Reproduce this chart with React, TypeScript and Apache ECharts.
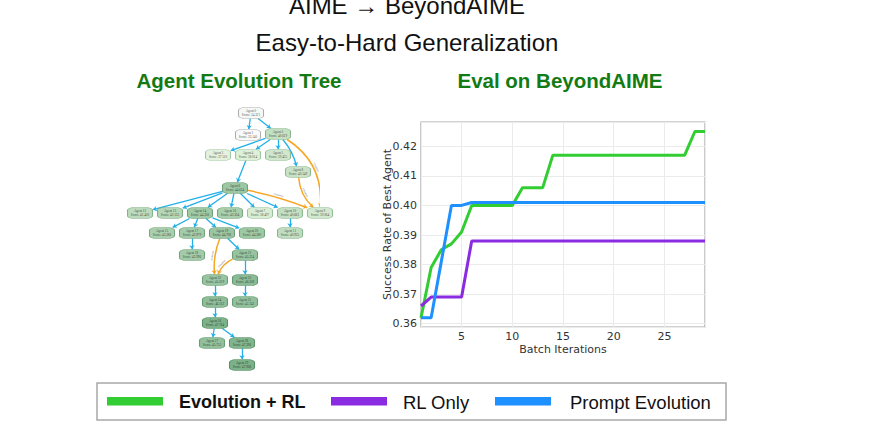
import { useEffect, useRef } from 'react';
import * as echarts from 'echarts';

// ---------- Line chart data (Eval on BeyondAIME) ----------
const iterations = [1, 2, 3, 4, 5, 6, 7, 8, 9, 10, 11, 12, 13, 14, 15, 16, 17, 18, 19, 20, 21, 22, 23, 24, 25, 26, 27, 28, 29];
const evolutionRL = [0.362, 0.379, 0.385, 0.387, 0.391, 0.400, 0.400, 0.400, 0.400, 0.400, 0.406, 0.406, 0.406, 0.417, 0.417, 0.417, 0.417, 0.417, 0.417, 0.417, 0.417, 0.417, 0.417, 0.417, 0.417, 0.417, 0.417, 0.425, 0.425];
const rlOnly = [0.366, 0.369, 0.369, 0.369, 0.369, 0.388, 0.388, 0.388, 0.388, 0.388, 0.388, 0.388, 0.388, 0.388, 0.388, 0.388, 0.388, 0.388, 0.388, 0.388, 0.388, 0.388, 0.388, 0.388, 0.388, 0.388, 0.388, 0.388, 0.388];
const promptEvolution = [0.362, 0.362, 0.381, 0.400, 0.400, 0.401, 0.401, 0.401, 0.401, 0.401, 0.401, 0.401, 0.401, 0.401, 0.401, 0.401, 0.401, 0.401, 0.401, 0.401, 0.401, 0.401, 0.401, 0.401, 0.401, 0.401, 0.401, 0.401, 0.401];
const seriesNames = ['Evolution + RL', 'RL Only', 'Prompt Evolution'];

// ---------- Tree data (Agent Evolution Tree) ----------
const agentIds = [0, 1, 2, 3, 4, 5, 8, 6, 12, 13, 14, 16, 7, 10, 9, 15, 17, 19, 20, 11, 18, 21, 22, 23, 24, 25, 26, 27, 28, 29];
const agentScores = [34.321, 33.140, 40.619, 37.110, 38.014, 39.425, 40.149, 44.634, 41.430, 42.135, 44.336, 43.304, 38.497, 40.661, 39.064, 43.286, 43.979, 44.796, 44.380, 40.935, 43.996, 45.224, 45.019, 46.508, 46.112, 45.742, 47.764, 45.753, 47.396, 47.968];
// layout position of each agent in the tree (column, level)
const agentCol = [251, 248, 278, 218, 248, 278, 298, 235, 140, 170, 200, 230, 260, 290, 320, 162, 192, 222, 252, 290, 192, 245, 215, 245, 215, 245, 215, 212, 242, 242];
const agentRow = [113, 135, 134, 155, 155, 155, 172, 188, 213, 213, 213, 213, 213, 213, 213, 233, 233, 233, 233, 233, 255, 255, 280, 280, 302, 302, 323, 343, 343, 365];
const mutationEdges: [number, number, number][] = [
  [0, 1, 0], [0, 2, 0], [2, 3, 0], [2, 4, 0], [2, 5, 0], [2, 8, 0.12], [4, 6, 0],
  [6, 12, 0], [6, 13, 0], [6, 14, 0], [6, 16, 0], [6, 7, 0], [6, 10, 0],
  [14, 15, 0], [14, 17, 0], [14, 19, 0], [14, 20, 0], [10, 11, 0], [17, 18, 0],
  [19, 21, 0], [21, 23, 0], [22, 24, 0], [23, 25, 0], [24, 26, 0], [26, 27, 0], [26, 28, 0], [28, 29, 0],
];
const crossoverEdges: [number, number, number][] = [
  [2, 9, 0.3], [8, 9, -0.2], [6, 9, 0.05], [19, 22, -0.12], [21, 22, -0.2],
];

const COLORS = { green: '#32cd32', purple: '#8a2be2', blue: '#1e90ff' };
const TITLE_GREEN = '#137b13';
const NODE_W = 25;
const NODE_H = 11;

function hexToRgb(h: string) {
  return [parseInt(h.slice(1, 3), 16), parseInt(h.slice(3, 5), 16), parseInt(h.slice(5, 7), 16)];
}
function mix(a: string, b: string, t: number) {
  const x = hexToRgb(a), y = hexToRgb(b);
  const c = x.map((v, i) => Math.round(v + (y[i] - v) * t));
  return `rgb(${c[0]},${c[1]},${c[2]})`;
}
function scoreColor(s: number) {
  if (s < 38) return mix('#f7f7f7', '#d5ecce', Math.max(0, (s - 34) / 4));
  return mix('#d5ecce', '#5b9e6b', Math.min(1, (s - 38) / 10));
}
function borderColor(s: number) {
  if (s < 35) return '#9a9a9a';
  return mix('#9cc99a', '#3f7f4f', Math.min(1, (s - 35) / 13));
}

function clipToRect(a: number[], toward: number[], pad: number) {
  const dx = toward[0] - a[0], dy = toward[1] - a[1];
  const sx = dx !== 0 ? (NODE_W / 2) / Math.abs(dx) : Infinity;
  const sy = dy !== 0 ? (NODE_H / 2) / Math.abs(dy) : Infinity;
  const s = Math.min(sx, sy);
  const len = Math.hypot(dx, dy) || 1;
  return [a[0] + dx * s + (dx / len) * pad, a[1] + dy * s + (dy / len) * pad];
}

function edgeCoords(from: number, to: number, c: number) {
  const i = agentIds.indexOf(from), j = agentIds.indexOf(to);
  const A = [agentCol[i], agentRow[i]];
  const B = [agentCol[j], agentRow[j]];
  const cp = [(A[0] + B[0]) / 2 - (A[1] - B[1]) * c, (A[1] + B[1]) / 2 - (B[0] - A[0]) * c];
  const start = clipToRect(A, c ? cp : B, 0);
  const end = clipToRect(B, c ? cp : A, 0.3);
  return [start, end];
}

export default function App() {
  const ref = useRef<HTMLDivElement>(null);
  useEffect(() => {
    document.body.style.margin = '0';
    if (!ref.current) return;
    const chart = echarts.init(ref.current, null, { renderer: 'svg' });

    const treeNodes = agentIds.map((id, i) => ({
      value: [agentCol[i], agentRow[i]],
      name: `Agent ${id}`,
      score: agentScores[i],
      itemStyle: { color: scoreColor(agentScores[i]), borderColor: borderColor(agentScores[i]), borderWidth: 0.7 },
    }));

    const treeEdges = [
      ...mutationEdges.map(([f, t, c]) => ({
        coords: edgeCoords(f, t, c),
        lineStyle: { color: '#22b0ea', width: 1.3, opacity: 1, curveness: c },
      })),
      ...crossoverEdges.map(([f, t, c]) => ({
        coords: edgeCoords(f, t, c),
        lineStyle: { color: '#f5a623', width: 1.5, opacity: 1, curveness: c },
        label: { show: true, formatter: 'crossover', fontSize: 2.6, color: '#555', position: 'middle', distance: 1, fontFamily: 'Liberation Serif' },
      })),
    ];

    const lineSeries = (name: string, vals: number[], color: string, z: number) => ({
      type: 'line',
      name,
      xAxisIndex: 0,
      yAxisIndex: 0,
      data: iterations.map((x, i) => [x, vals[i]]),
      showSymbol: false,
      symbol: 'none',
      lineStyle: { color, width: 3 },
      itemStyle: { color },
      z,
    });

    const legendItems = [
      { name: seriesNames[0], color: COLORS.green, rectX: 107, textX: 179, bold: true },
      { name: seriesNames[1], color: COLORS.purple, rectX: 331, textX: 403, bold: false },
      { name: seriesNames[2], color: COLORS.blue, rectX: 495, textX: 570, bold: false },
    ];

    const sans = 'Liberation Sans, Arial, sans-serif';
    const option: any = {
      animation: false,
      backgroundColor: '#ffffff',
      grid: [
        { left: 421, top: 122, width: 284, height: 205, show: true, borderColor: '#a8a8a8', borderWidth: 1.2, backgroundColor: 'transparent' },
        { left: 140, top: 113, width: 180, height: 252, show: false },
      ],
      xAxis: [
        {
          gridIndex: 0, type: 'value', min: 1, max: 29,
          name: 'Batch Iterations', nameLocation: 'middle', nameGap: 17, nameMoveOverlap: false,
          nameTextStyle: { fontSize: 11, color: '#333', fontFamily: 'DejaVu Sans' },
          axisLine: { show: false }, axisTick: { show: false },
          axisLabel: { fontSize: 11, color: '#333', fontFamily: 'DejaVu Sans', margin: 4, showMinLabel: false, showMaxLabel: false },
          splitLine: { show: true, lineStyle: { color: '#ebebeb', width: 1 } },
        },
        { gridIndex: 1, type: 'value', min: 140, max: 320, show: false },
      ],
      yAxis: [
        {
          gridIndex: 0, type: 'value', min: 0.3589, max: 0.4282,
          name: 'Success Rate of Best Agent', nameLocation: 'middle', nameGap: 28.5, nameRotate: 90, nameMoveOverlap: false,
          nameTextStyle: { fontSize: 11, color: '#333', fontFamily: 'DejaVu Sans' },
          axisLine: { show: false }, axisTick: { show: false },
          axisLabel: { fontSize: 11, color: '#333', fontFamily: 'DejaVu Sans', margin: 4, showMinLabel: false, showMaxLabel: false, formatter: (v: number) => v.toFixed(2) },
          splitLine: { show: true, lineStyle: { color: '#ebebeb', width: 1 } },
        },
        { gridIndex: 1, type: 'value', min: 113, max: 365, inverse: true, show: false },
      ],
      series: [
        lineSeries(seriesNames[0], evolutionRL, COLORS.green, 3),
        lineSeries(seriesNames[1], rlOnly, COLORS.purple, 4),
        lineSeries(seriesNames[2], promptEvolution, COLORS.blue, 5),
        {
          type: 'lines',
          coordinateSystem: 'cartesian2d',
          xAxisIndex: 1,
          yAxisIndex: 1,
          symbol: ['none', 'arrow'],
          symbolSize: 4,
          lineStyle: { opacity: 1 },
          data: treeEdges,
          z: 2,
          silent: true,
        },
        {
          type: 'scatter',
          xAxisIndex: 1,
          yAxisIndex: 1,
          symbol: 'roundRect',
          symbolSize: [NODE_W, NODE_H],
          data: treeNodes,
          z: 6,
          label: {
            show: true,
            position: 'inside',
            fontSize: 3.3,
            lineHeight: 4,
            color: '#1a1a1a',
            fontFamily: 'Liberation Serif, serif',
            formatter: (p: any) => `${p.data.name}\nScore: ${p.data.score.toFixed(3)}`,
          },
        },
      ],
      graphic: [
        { type: 'text', style: { text: 'AIME → BeyondAIME', x: 407, y: 5, textAlign: 'center', textVerticalAlign: 'middle', fontSize: 24, fontFamily: sans, fill: '#111' } },
        { type: 'text', style: { text: 'Easy-to-Hard Generalization', x: 407, y: 42, textAlign: 'center', textVerticalAlign: 'middle', fontSize: 24, fontFamily: sans, fill: '#111' } },
        { type: 'text', style: { text: 'Agent Evolution Tree', x: 239, y: 80, textAlign: 'center', textVerticalAlign: 'middle', fontSize: 20.5, fontWeight: 'bold', fontFamily: sans, fill: TITLE_GREEN } },
        { type: 'text', style: { text: 'Eval on BeyondAIME', x: 560, y: 80, textAlign: 'center', textVerticalAlign: 'middle', fontSize: 20.5, fontWeight: 'bold', fontFamily: sans, fill: TITLE_GREEN } },
        { type: 'rect', shape: { x: 97, y: 383, width: 629, height: 37 }, style: { fill: '#fff', stroke: '#a8a8a8', lineWidth: 1.5 } },
        ...legendItems.flatMap((it) => [
          { type: 'rect', shape: { x: it.rectX, y: 397, width: 56, height: 8.5 }, style: { fill: it.color } },
          { type: 'text', style: { text: it.name, x: it.textX, y: 402, textVerticalAlign: 'middle', fontSize: it.bold ? 18 : 18.5, fontWeight: it.bold ? 'bold' : 'normal', fontFamily: sans, fill: '#111' } },
        ]),
      ],
    };
    chart.setOption(option);
    return () => chart.dispose();
  }, []);
  return <div ref={ref} style={{ width: 892, height: 433 }} />;
}
